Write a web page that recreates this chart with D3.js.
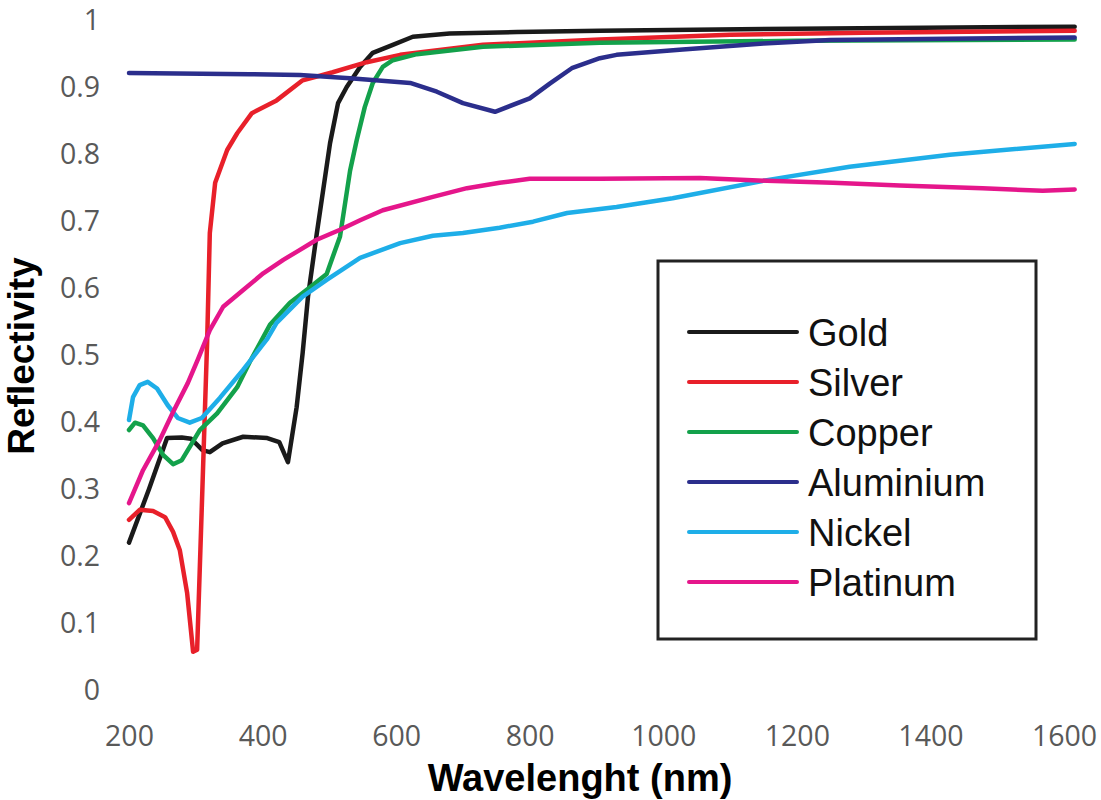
<!DOCTYPE html>
<html>
<head>
<meta charset="utf-8">
<script src="https://cdn.jsdelivr.net/npm/d3@7"></script>
<style>
  body { margin: 0; background: #fff; }
  svg { display: block; }
</style>
</head>
<body>
<svg id="chart" width="1101" height="800"></svg>
<script>
// ---- Data (wavelength nm, reflectivity) ----
const seriesNames = ["Gold", "Silver", "Copper", "Aluminium", "Nickel", "Platinum"];
const seriesColors = ["#1a1a1a", "#e8202a", "#13a14b", "#2b2e8c", "#1eaee8", "#e5168b"];
const xTicks = [200, 400, 600, 800, 1000, 1200, 1400, 1600];
const yTicks = [0, 0.1, 0.2, 0.3, 0.4, 0.5, 0.6, 0.7, 0.8, 0.9, 1];
const yTickLabels = ["0", "0.1", "0.2", "0.3", "0.4", "0.5", "0.6", "0.7", "0.8", "0.9", "1"];

const gold = [[200,0.22],[230,0.30],[257,0.376],[279,0.377],[293,0.375],[310,0.358],[321,0.355],[340,0.368],[371,0.378],[407,0.376],[425,0.37],[438,0.34],[451,0.422],[460,0.503],[468,0.587],[481,0.68],[501,0.816],[513,0.876],[526,0.90],[546,0.93],[565,0.951],[595,0.963],[625,0.975],[680,0.98],[781,0.982],[905,0.984],[1200,0.987],[1616,0.99]];
const silver = [[200,0.254],[216,0.269],[236,0.267],[254,0.258],[266,0.236],[276,0.209],[287,0.145],[296,0.057],[302,0.06],[309,0.273],[317,0.52],[321,0.682],[329,0.757],[347,0.806],[362,0.831],[384,0.861],[421,0.88],[460,0.91],[505,0.922],[556,0.937],[606,0.948],[730,0.963],[905,0.971],[1100,0.978],[1300,0.981],[1616,0.984]];
const copper = [[200,0.388],[209,0.399],[221,0.395],[236,0.376],[251,0.351],[266,0.337],[279,0.343],[291,0.363],[306,0.388],[332,0.413],[362,0.452],[381,0.49],[411,0.545],[441,0.578],[471,0.601],[496,0.621],[516,0.677],[531,0.775],[541,0.821],[553,0.87],[565,0.906],[580,0.93],[595,0.94],[631,0.949],[730,0.96],[905,0.966],[1200,0.969],[1616,0.971]];
const aluminium = [[200,0.921],[381,0.919],[456,0.918],[531,0.913],[621,0.906],[661,0.893],[700,0.876],[748,0.863],[800,0.883],[830,0.905],[863,0.928],[905,0.943],[930,0.948],[1029,0.956],[1150,0.965],[1250,0.97],[1616,0.974]];
const nickel = [[200,0.403],[206,0.437],[216,0.455],[228,0.46],[242,0.45],[258,0.425],[273,0.406],[291,0.399],[309,0.406],[336,0.436],[371,0.478],[407,0.524],[421,0.548],[460,0.587],[496,0.612],[546,0.645],[606,0.667],[655,0.678],[700,0.682],[755,0.69],[805,0.699],[856,0.712],[930,0.721],[1014,0.734],[1155,0.761],[1279,0.781],[1429,0.799],[1616,0.815]];
const platinum = [[200,0.279],[221,0.328],[246,0.373],[266,0.415],[288,0.458],[303,0.493],[321,0.537],[341,0.572],[371,0.597],[401,0.622],[431,0.642],[451,0.654],[481,0.672],[516,0.687],[546,0.701],[580,0.716],[655,0.736],[706,0.749],[755,0.757],[800,0.763],[905,0.763],[1055,0.764],[1155,0.76],[1254,0.757],[1354,0.753],[1478,0.749],[1568,0.745],[1616,0.747]];

const seriesData = [gold, silver, copper, aluminium, nickel, platinum];

// ---- Chart ----
const svg = d3.select("#chart");
const x = d3.scaleLinear().domain([200, 1600]).range([129, 1064]);
const y = d3.scaleLinear().domain([0, 1]).range([690, 20]);

const tickFont = "'Open Sans', sans-serif";

// Y axis labels
const yAxis = svg.append("g")
  .attr("transform", `translate(${x(200)},0)`)
  .call(d3.axisLeft(y).tickValues(yTicks).tickFormat((d, i) => yTickLabels[i]).tickSize(0).tickPadding(29));
yAxis.select(".domain").remove();
yAxis.selectAll("text")
  .attr("font-family", tickFont).attr("font-size", 28.5).attr("fill", "#595959");

// X axis labels
const xAxis = svg.append("g")
  .attr("transform", `translate(0,${y(0)})`)
  .call(d3.axisBottom(x).tickValues(xTicks).tickFormat(d3.format("d")).tickSize(0).tickPadding(36));
xAxis.select(".domain").remove();
xAxis.selectAll("text")
  .attr("font-family", tickFont).attr("font-size", 28.5).attr("fill", "#595959");

// Lines
const line = d3.line().x(d => x(d[0])).y(d => y(d[1]));
svg.append("g").selectAll("path")
  .data(seriesData)
  .join("path")
  .attr("d", line)
  .attr("fill", "none")
  .attr("stroke", (d, i) => seriesColors[i])
  .attr("stroke-width", 4.5)
  .attr("stroke-linejoin", "round")
  .attr("stroke-linecap", "round");

// Axis titles
svg.append("text")
  .attr("x", 580).attr("y", 791)
  .attr("text-anchor", "middle")
  .attr("font-family", "'Liberation Sans', Arial, sans-serif")
  .attr("font-weight", "bold").attr("font-size", 38).attr("fill", "#000")
  .text("Wavelenght (nm)");

svg.append("text")
  .attr("transform", "translate(34,356) rotate(-90)")
  .attr("text-anchor", "middle")
  .attr("font-family", "'Liberation Sans', Arial, sans-serif")
  .attr("font-weight", "bold").attr("font-size", 37).attr("fill", "#000")
  .text("Reflectivity");

// Legend
const legend = svg.append("g");
legend.append("rect")
  .attr("x", 658).attr("y", 261).attr("width", 378).attr("height", 378)
  .attr("fill", "#fff").attr("stroke", "#222").attr("stroke-width", 3);
const rows = legend.selectAll("g.row")
  .data(seriesNames)
  .join("g").attr("class", "row")
  .attr("transform", (d, i) => `translate(0,${332 + i * 50})`);
rows.append("line")
  .attr("x1", 689).attr("x2", 797).attr("y1", 0).attr("y2", 0)
  .attr("stroke", (d, i) => seriesColors[i]).attr("stroke-width", 4)
  .attr("stroke-linecap", "round");
rows.append("text")
  .attr("x", 808).attr("y", 14)
  .attr("font-family", "'Liberation Sans', Arial, sans-serif")
  .attr("font-size", 38).attr("fill", "#111")
  .text(d => d);
</script>
</body>
</html>
